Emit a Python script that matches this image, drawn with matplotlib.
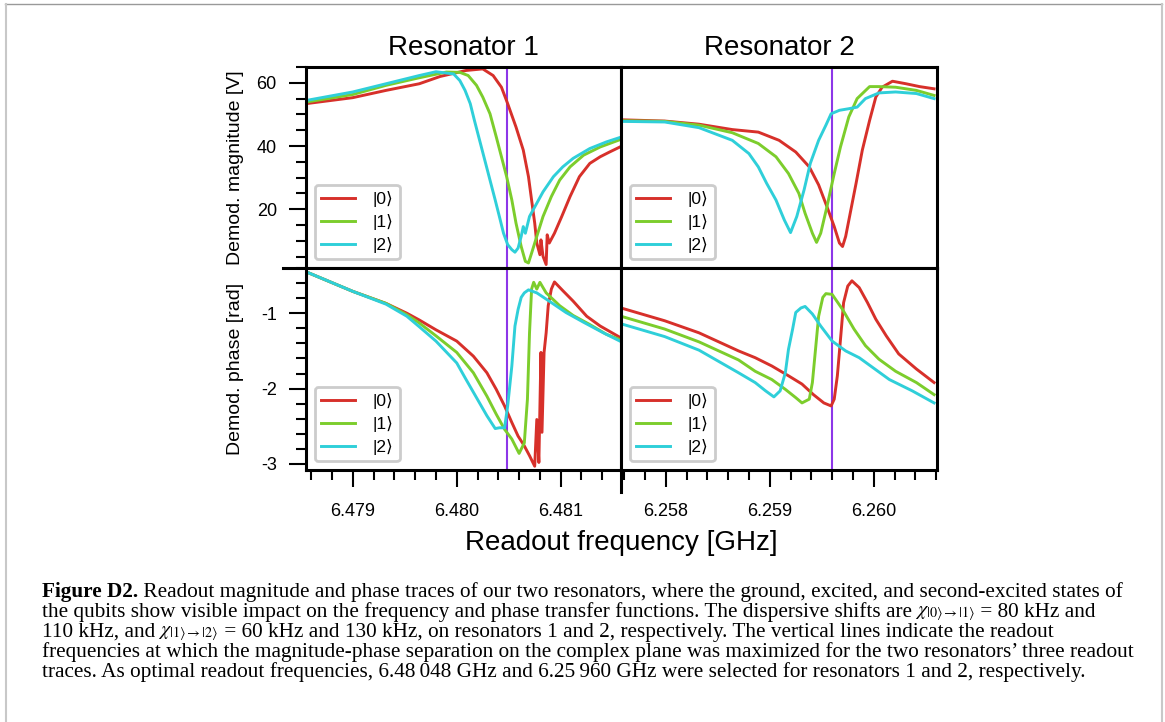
import matplotlib
matplotlib.use("Agg")
import matplotlib.pyplot as plt
from matplotlib.lines import Line2D
from matplotlib.ticker import MultipleLocator

plt.rcParams['font.family'] = ['Liberation Sans', 'DejaVu Sans']
plt.rcParams['axes.unicode_minus'] = False
plt.rcParams['mathtext.fontset'] = 'stix'

# ---- data (frequency in GHz) ----
states = ['|0⟩', '|1⟩', '|2⟩']
colors = ['#d7302a', '#7ccd2c', '#2fcfd9']
readout_f = [6.48048, 6.25960]

# resonator 1, magnitude [V]
r1_mag_f0 = [6.47855, 6.47900, 6.47932, 6.47964, 6.47984, 6.48009, 6.48025, 6.48035, 6.48043,
             6.48049, 6.48057, 6.48064, 6.48069, 6.48072, 6.48075, 6.48077, 6.48080, 6.48081,
             6.48083, 6.48086, 6.48087, 6.48089, 6.48094, 6.48101, 6.48109, 6.48118, 6.48128,
             6.48138, 6.48147, 6.48157]
r1_mag_v0 = [53.4, 55.3, 57.6, 59.7, 62.0, 63.9, 64.4, 62.3, 58.6, 53.4, 46.0, 38.7, 30.3, 22.9,
             15.6, 9.3, 5.6, 10.3, 5.1, 2.5, 11.9, 9.3, 12.4, 17.7, 24.0, 30.3, 34.5, 36.6, 38.1, 39.7]
r1_mag_f1 = [6.47855, 6.47900, 6.47932, 6.47964, 6.47990, 6.48003, 6.48011, 6.48019, 6.48025,
             6.48032, 6.48038, 6.48043, 6.48048, 6.48053, 6.48057, 6.48062, 6.48066, 6.48069,
             6.48072, 6.48077, 6.48083, 6.48091, 6.48099, 6.48109, 6.48122, 6.48138, 6.48157]
r1_mag_v1 = [53.9, 56.3, 59.2, 61.6, 63.4, 63.3, 62.3, 59.2, 55.5, 50.2, 42.9, 36.6, 30.3, 22.9,
             15.6, 8.2, 3.5, 3.0, 6.1, 11.4, 17.7, 24.0, 29.2, 33.4, 37.1, 39.7, 42.0]
r1_mag_f2 = [6.47855, 6.47900, 6.47932, 6.47964, 6.47980, 6.47997, 6.48003, 6.48008, 6.48013,
             6.48017, 6.48022, 6.48027, 6.48032, 6.48037, 6.48041, 6.48045, 6.48049, 6.48053,
             6.48056, 6.48059, 6.48062, 6.48064, 6.48066, 6.48070, 6.48077, 6.48083, 6.48093,
             6.48102, 6.48112, 6.48128, 6.48144, 6.48157]
r1_mag_v2 = [54.4, 57.1, 59.7, 62.3, 63.5, 62.8, 60.7, 57.6, 53.4, 48.1, 41.8, 35.5, 29.2, 22.9,
             17.7, 12.4, 8.8, 7.2, 6.4, 7.7, 11.4, 14.5, 12.4, 17.7, 21.9, 25.5, 30.3, 33.4, 36.1,
             39.2, 41.3, 42.7]

# resonator 2, magnitude [V]
r2_mag_f0 = [6.25757, 6.25799, 6.25832, 6.25864, 6.25889, 6.25909, 6.25925, 6.25938, 6.25947,
             6.25955, 6.25962, 6.25967, 6.25970, 6.25973, 6.25978, 6.25983, 6.25989, 6.25996,
             6.26002, 6.26008, 6.26018, 6.26031, 6.26044, 6.26058]
r2_mag_v0 = [48.3, 47.9, 46.9, 45.2, 44.4, 41.8, 38.1, 33.4, 27.7, 20.8, 14.5, 9.3, 8.2, 11.4,
             19.8, 28.2, 38.7, 48.1, 55.5, 58.6, 60.5, 59.7, 58.8, 58.1]
r2_mag_f1 = [6.25757, 6.25799, 6.25832, 6.25864, 6.25889, 6.25906, 6.25918, 6.25928, 6.25934,
             6.25941, 6.25945, 6.25949, 6.25955, 6.25962, 6.25968, 6.25976, 6.25984, 6.25996,
             6.26005, 6.26021, 6.26041, 6.26058]
r2_mag_v1 = [48.0, 47.8, 46.6, 44.2, 40.8, 36.6, 31.3, 25.0, 18.7, 12.4, 9.5, 12.4, 20.8, 31.3,
             39.7, 49.2, 55.0, 58.8, 58.8, 58.6, 57.6, 56.0]
r2_mag_f2 = [6.25757, 6.25799, 6.25832, 6.25864, 6.25880, 6.25889, 6.25897, 6.25906, 6.25914,
             6.25920, 6.25926, 6.25933, 6.25939, 6.25947, 6.25954, 6.25959, 6.25967, 6.25976,
             6.25984, 6.25992, 6.26005, 6.26021, 6.26041, 6.26058]
r2_mag_v2 = [47.8, 47.6, 45.8, 41.8, 37.6, 33.4, 28.2, 22.9, 16.6, 12.6, 17.7, 26.1, 34.5, 41.8,
             46.6, 50.2, 51.3, 51.8, 52.3, 55.0, 56.8, 57.1, 56.6, 55.0]

# resonator 1, phase [rad]
r1_ph_f0 = [6.47855, 6.47900, 6.47932, 6.47952, 6.47964, 6.47980, 6.48000, 6.48016, 6.48029,
            6.48038, 6.48046, 6.48053, 6.48059, 6.48065, 6.48070, 6.48075, 6.48077, 6.48079,
            6.48081, 6.48082, 6.48084, 6.48086, 6.48088, 6.48091, 6.48094, 6.48102, 6.48112,
            6.48125, 6.48138, 6.48157]
r1_ph_v0 = [-0.45, -0.71, -0.87, -1.00, -1.09, -1.22, -1.37, -1.57, -1.79, -2.01, -2.23, -2.45,
            -2.63, -2.76, -2.89, -3.03, -2.41, -2.98, -1.52, -2.58, -1.52, -1.26, -0.90, -0.68,
            -0.585, -0.70, -0.84, -1.04, -1.17, -1.32]
r1_ph_f1 = [6.47855, 6.47900, 6.47932, 6.47952, 6.47964, 6.47980, 6.48000, 6.48016, 6.48029,
            6.48038, 6.48046, 6.48053, 6.48060, 6.48065, 6.48068, 6.48070, 6.48072, 6.48074,
            6.48077, 6.48080, 6.48086, 6.48099, 6.48112, 6.48128, 6.48144, 6.48157]
r1_ph_v1 = [-0.45, -0.71, -0.87, -1.02, -1.13, -1.30, -1.52, -1.79, -2.10, -2.34, -2.54, -2.67,
            -2.86, -2.72, -2.14, -1.26, -0.68, -0.59, -0.68, -0.59, -0.73, -0.90, -1.03, -1.15,
            -1.28, -1.35]
r1_ph_f2 = [6.47855, 6.47900, 6.47932, 6.47952, 6.47964, 6.47980, 6.48000, 6.48009, 6.48019,
            6.48029, 6.48037, 6.48041, 6.48046, 6.48049, 6.48053, 6.48056, 6.48059, 6.48062,
            6.48065, 6.48069, 6.48077, 6.48089, 6.48105, 6.48122, 6.48141, 6.48157]
r1_ph_v2 = [-0.45, -0.71, -0.88, -1.04, -1.18, -1.37, -1.66, -1.88, -2.12, -2.36, -2.53, -2.52,
            -2.52, -2.23, -1.70, -1.17, -0.95, -0.79, -0.73, -0.69, -0.73, -0.84, -0.99, -1.12,
            -1.26, -1.37]

# resonator 2, phase [rad]
r2_ph_f0 = [6.25757, 6.25799, 6.25832, 6.25870, 6.25886, 6.25902, 6.25918, 6.25931, 6.25942,
            6.25952, 6.25959, 6.25962, 6.25965, 6.25968, 6.25971, 6.25975, 6.25979, 6.25986,
            6.25994, 6.26002, 6.26012, 6.26024, 6.26041, 6.26058]
r2_ph_v0 = [-0.93, -1.10, -1.26, -1.50, -1.59, -1.70, -1.83, -1.94, -2.08, -2.19, -2.23, -2.14,
            -1.83, -1.35, -0.86, -0.64, -0.57, -0.66, -0.86, -1.08, -1.30, -1.54, -1.74, -1.92]
r2_ph_f1 = [6.25757, 6.25799, 6.25832, 6.25870, 6.25886, 6.25902, 6.25915, 6.25925, 6.25931,
            6.25938, 6.25941, 6.25944, 6.25947, 6.25951, 6.25954, 6.25960, 6.25970, 6.25981,
            6.25992, 6.26005, 6.26021, 6.26041, 6.26058]
r2_ph_v1 = [-1.04, -1.21, -1.38, -1.62, -1.77, -1.88, -2.01, -2.12, -2.19, -2.14, -1.92, -1.48,
            -1.04, -0.79, -0.74, -0.75, -0.95, -1.21, -1.43, -1.61, -1.77, -1.92, -2.08]
r2_ph_f2 = [6.25757, 6.25799, 6.25832, 6.25870, 6.25886, 6.25896, 6.25904, 6.25910, 6.25915,
            6.25918, 6.25922, 6.25925, 6.25930, 6.25934, 6.25941, 6.25949, 6.25960, 6.25973,
            6.25986, 6.25999, 6.26015, 6.26037, 6.26058]
r2_ph_v2 = [-1.14, -1.31, -1.49, -1.79, -1.92, -2.03, -2.11, -2.03, -1.79, -1.48, -1.21, -0.99,
            -0.93, -0.91, -1.01, -1.17, -1.37, -1.50, -1.59, -1.72, -1.88, -2.03, -2.19]

# ---- figure ----
W, H = 1165, 722
fig = plt.figure(figsize=(W / 100, H / 100), dpi=100)


def fx(px):
    return px / W


def fy(py):
    return 1 - py / H


x0, xm, x1 = 306, 621, 937
y0, ym, y1 = 67, 268, 470
ax_m1 = fig.add_axes([fx(x0), fy(ym), (xm - x0) / W, (ym - y0) / H])
ax_m2 = fig.add_axes([fx(xm), fy(ym), (x1 - xm) / W, (ym - y0) / H])
ax_p1 = fig.add_axes([fx(x0), fy(y1), (xm - x0) / W, (y1 - ym) / H])
ax_p2 = fig.add_axes([fx(xm), fy(y1), (x1 - xm) / W, (y1 - ym) / H])

panels = [
    (ax_m1, [(r1_mag_f0, r1_mag_v0), (r1_mag_f1, r1_mag_v1), (r1_mag_f2, r1_mag_v2)], readout_f[0]),
    (ax_m2, [(r2_mag_f0, r2_mag_v0), (r2_mag_f1, r2_mag_v1), (r2_mag_f2, r2_mag_v2)], readout_f[1]),
    (ax_p1, [(r1_ph_f0, r1_ph_v0), (r1_ph_f1, r1_ph_v1), (r1_ph_f2, r1_ph_v2)], readout_f[0]),
    (ax_p2, [(r2_ph_f0, r2_ph_v0), (r2_ph_f1, r2_ph_v1), (r2_ph_f2, r2_ph_v2)], readout_f[1]),
]

for ax, traces, fr in panels:
    for (f, v), lab, c in zip(traces, states, colors):
        ax.plot(f, v, color=c, lw=2.1, label=lab)
    ax.axvline(fr, color='#8d36e8', lw=1.5, zorder=1)
    for s in ax.spines.values():
        s.set_linewidth(2.2)
    leg = ax.legend(loc='lower left', fontsize=12.5, fancybox=True, framealpha=1,
                    edgecolor='#cccccc', handlelength=2.0, handletextpad=1.0,
                    borderpad=0.35, labelspacing=0.42, borderaxespad=0.5)
    leg.get_frame().set_linewidth(2)

for ax in (ax_m1, ax_m2):
    ax.set_ylim(1.4, 65)
for ax in (ax_p1, ax_p2):
    ax.set_ylim(-3.08, -0.4)
for ax in (ax_m1, ax_p1):
    ax.set_xlim(6.47855, 6.48158)
for ax in (ax_m2, ax_p2):
    ax.set_xlim(6.25757, 6.260608)

ax_m1.yaxis.set_major_locator(MultipleLocator(20))
ax_m1.yaxis.set_minor_locator(MultipleLocator(5))
ax_p1.yaxis.set_major_locator(MultipleLocator(1))
ax_p1.yaxis.set_minor_locator(MultipleLocator(0.2))
ax_p1.set_yticks([-3, -2, -1])
ax_p1.set_yticklabels(['-3', '-2', '-1'])
for ax in (ax_p1, ax_p2):
    ax.xaxis.set_major_locator(MultipleLocator(0.001))
    ax.xaxis.set_minor_locator(MultipleLocator(0.0002))
ax_p1.set_xticks([6.479, 6.480, 6.481])
ax_p1.set_xticklabels(['6.479', '6.480', '6.481'])
ax_p2.set_xticks([6.258, 6.259, 6.260])
ax_p2.set_xticklabels(['6.258', '6.259', '6.260'])

for ax in (ax_m1, ax_m2, ax_p1, ax_p2):
    ax.tick_params(which='both', direction='out', width=1.5, labelsize=13,
                   top=False, right=False)
    ax.tick_params(axis='y', pad=9)
    ax.tick_params(axis='x', pad=12)
    ax.tick_params(which='major', length=12)
    ax.tick_params(which='minor', length=7)
for ax in (ax_m1, ax_m2):
    ax.tick_params(which='both', bottom=False, labelbottom=False)
for ax in (ax_m2, ax_p2):
    ax.tick_params(which='both', left=False, labelleft=False)

# divider extensions
fig.add_artist(Line2D([fx(283), fx(x0)], [fy(ym), fy(ym)], transform=fig.transFigure,
                      color='k', lw=2.2))
fig.add_artist(Line2D([fx(xm), fx(xm)], [fy(y1), fy(492)], transform=fig.transFigure,
                      color='k', lw=2.2))

# titles and labels
fig.text(fx((x0 + xm) / 2), fy(55), 'Resonator 1', ha='center', va='baseline', fontsize=20)
fig.text(fx((xm + x1) / 2), fy(55), 'Resonator 2', ha='center', va='baseline', fontsize=20)
fig.text(fx(xm), fy(550), 'Readout frequency [GHz]', ha='center', va='baseline', fontsize=20)
fig.text(fx(235), fy((y0 + ym) / 2), 'Demod. magnitude [V]', rotation=90, ha='center',
         va='center', fontsize=14)
fig.text(fx(235), fy((ym + y1) / 2), 'Demod. phase [rad]', rotation=90, ha='center',
         va='center', fontsize=14)

# caption, each line built from pieces placed one after another
cap_font = ['Liberation Serif', 'DejaVu Serif']
cs = 15.3
renderer = fig.canvas.get_renderer()
cap_lines = [
    [('Figure D2.', 'bold'),
     (' Readout magnitude and phase traces of our two resonators, where the ground, '
      'excited, and second-excited states of', 'normal')],
    [('the qubits show visible impact on the frequency and phase transfer functions. '
      'The dispersive shifts are', 'normal'),
     (r' $\chi_{|0\rangle\rightarrow|1\rangle}$', 'math'),
     (' = 80 kHz and', 'normal')],
    [('110 kHz, and', 'normal'),
     (r' $\chi_{|1\rangle\rightarrow|2\rangle}$', 'math'),
     (' = 60 kHz and 130 kHz, on resonators 1 and 2, respectively. '
      'The vertical lines indicate the readout', 'normal')],
    [('frequencies at which the magnitude-phase separation on the complex plane was '
      'maximized for the two resonators\u2019 three readout', 'normal')],
    [('traces. As optimal readout frequencies, 6.48\u2009048 GHz and 6.25\u2009960 GHz were '
      'selected for resonators 1 and 2, respectively.', 'normal')],
]
for i, pieces in enumerate(cap_lines):
    xpos = fx(42)
    for txt, kind in pieces:
        base = 597 + 20 * i
        if kind == 'math':
            t = fig.text(xpos, fy(base - 2), txt, fontsize=cs - 0.8, family=cap_font,
                         va='baseline')
        else:
            t = fig.text(xpos, fy(base), txt, fontsize=cs, family=cap_font,
                         fontweight=kind, va='baseline')
        xpos = t.get_window_extent(renderer).x1 / W

# page border
fig.add_artist(Line2D([fx(5), fx(1162)], [fy(4), fy(4)], transform=fig.transFigure,
                      color='#999999', lw=1))
fig.add_artist(Line2D([fx(6), fx(6)], [fy(4), 0], transform=fig.transFigure,
                      color='#c8c8c8', lw=1.5))
fig.add_artist(Line2D([fx(1162), fx(1162)], [fy(4), 0], transform=fig.transFigure,
                      color='#c8c8c8', lw=1.5))

fig.savefig('out.png', dpi=100)
